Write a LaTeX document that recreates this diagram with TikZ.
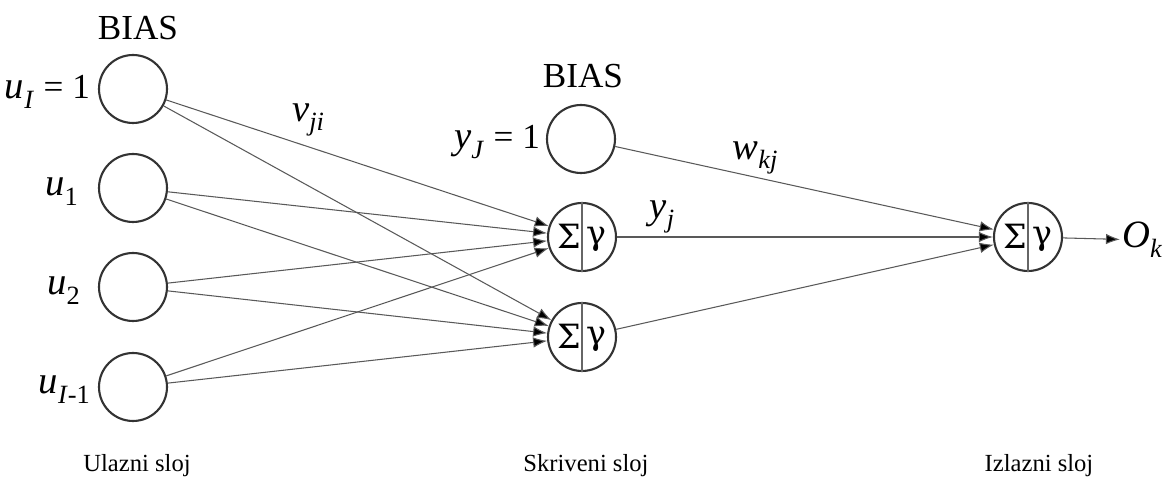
\documentclass[tikz,border=0pt]{standalone}
\usepackage{fontspec}
\setmainfont{Liberation Serif}
\newfontfamily\greekfont{DejaVu Serif}
\usetikzlibrary{arrows.meta}

\newcommand{\varsub}[2]{\textit{#1}\raisebox{-0.55ex}{\fontsize{15}{15}\selectfont #2}}

\begin{document}
\begin{tikzpicture}[x=0.02cm,y=-0.02cm,
    neuron/.style={draw=black!80,circle,line width=1.2pt,minimum size=1.36cm,inner sep=0pt},
    lbl/.style={font=\fontsize{20}{24}\selectfont,inner sep=1pt},
    var/.style={font=\fontsize{22}{24}\selectfont,inner sep=1pt},
    greek/.style={font=\fontsize{19}{22}\greekfont,inner sep=1pt},
    layer/.style={font=\fontsize{14}{16}\selectfont,anchor=base},
    conn/.style={draw=black!65,line width=0.6pt,-{Latex[length=8pt,width=6pt]}}]
        \useasboundingbox (0,0) rectangle (1171,479);
        % ulazni sloj
        \node[neuron] (U0) at (133,89) {};
        \node[neuron] (U1) at (133,188) {};
        \node[neuron] (U2) at (133,287) {};
        \node[neuron] (U3) at (133,387) {};
        \node[lbl,anchor=base] (B1) at (138,40) {BIAS};
        \node[var,anchor=east] (L0) at (92,92) {\varsub{u}{\textit{I}} \fontsize{20}{24}\selectfont= 1};
        \node[var,anchor=east] (L1) at (80,192) {\varsub{u}{1}};
        \node[var,anchor=east] (L2) at (82,291) {\varsub{u}{2}};
        \node[var,anchor=east] (L3) at (92,390) {\varsub{u}{\textit{I}-1}};
        % skriveni sloj
        \node[neuron] (H0) at (581,139) {};
        \node[neuron] (H1) at (582,237) {};
        \node[neuron] (H2) at (582,337) {};
        \node[lbl,anchor=base] (B2) at (583,88) {BIAS};
        \node[var,anchor=east] (LH) at (542,142) {\varsub{y}{\textit{J}} \fontsize{20}{24}\selectfont= 1};
        \draw[black!60,line width=0.8pt] (H1.north) -- (H1.south);
        \draw[black!60,line width=0.8pt] (H2.north) -- (H2.south);
        \node[greek] (S1) at (569,236) {Σ};
        \node[greek] (G1) at (596,239) {γ};
        \node[greek] (S2) at (569,336) {Σ};
        \node[greek] (G2) at (596,339) {γ};
        % izlazni sloj
        \node[neuron] (O) at (1028,237) {};
        \draw[black!60,line width=0.8pt] (O.north) -- (O.south);
        \node[greek] (SO) at (1015,236) {Σ};
        \node[greek] (GO) at (1042,239) {γ};
        \node[var,anchor=west] (Ok) at (1120,240) {\varsub{O}{\textit{k}}};
        % tezine
        \node[var] (V) at (308,120) {\varsub{v}{\textit{ji}}};
        \node[var] (W) at (755,158) {\varsub{w}{\textit{kj}}};
        \node[var] (Y) at (662,217) {\varsub{y}{\textit{j}}};
        \path[conn] (U0) edge (H1)  (U0) edge (H2)
        (U1) edge (H1)  (U1) edge (H2)
        (U2) edge (H1)  (U2) edge (H2)
        (U3) edge (H1)  (U3) edge (H2)
        (H0) edge (O)  (H1) edge (O)
        (H2) edge (O)  (O) edge (Ok);
        % slojevi
        \node[layer] (T1) at (137,472) {Ulazni sloj};
        \node[layer] (T2) at (586,472) {Skriveni sloj};
        \node[layer] (T3) at (1039,472) {Izlazni sloj};
      \end{tikzpicture}
\end{document}
